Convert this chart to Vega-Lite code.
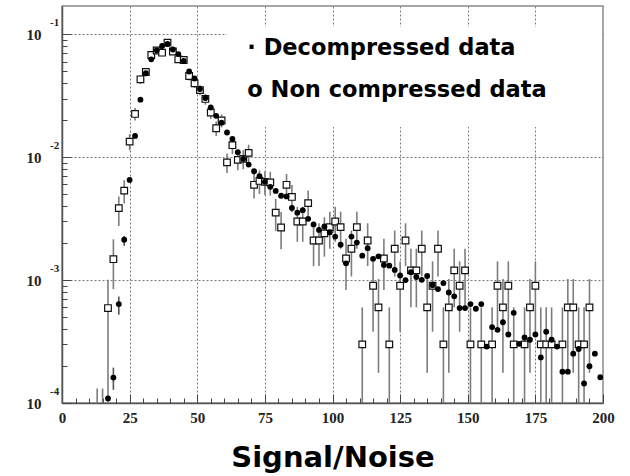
{
  "$schema": "https://vega.github.io/schema/vega-lite/v6.json",
  "autosize": {"type": "none"},
  "width": 541,
  "height": 397,
  "padding": {"left": 62, "top": 6, "right": 27, "bottom": 73},
  "background": "white",
  "resolve": {"axis": {"x": "independent", "y": "independent"}},
  "config": {
    "view": {"stroke": "#8a8a8a", "strokeWidth": 1.5},
    "axisX": {
      "labelFont": "Liberation Serif", "labelFontWeight": "bold", "labelFontSize": 15, "labelColor": "#222222",
      "labelPadding": 16, "labelOverlap": false, "labelFlush": false,
      "tickColor": "#444444", "tickWidth": 1, "domainColor": "#555555", "domainWidth": 1.5,
      "gridColor": "#7a7a7a", "gridDash": [2, 2], "gridWidth": 1,
      "titleFont": "DejaVu Sans", "titleFontWeight": "bold", "titleFontSize": 29, "titleColor": "#000000", "titlePadding": 18
    },
    "axisY": {
      "labelFont": "Liberation Serif", "labelFontWeight": "bold", "labelFontSize": 15, "labelColor": "#222222",
      "labelPadding": 30, "labelOverlap": false, "labelFlush": false, "labelBaseline": "middle",
      "tickColor": "#444444", "tickWidth": 1, "domainColor": "#555555", "domainWidth": 1.5,
      "gridColor": "#7a7a7a", "gridDash": [2, 2], "gridWidth": 1
    }
  },
  "datasets": {
    "dec": [
      {"b":17,"v":0.000109},{"b":19,"v":0.000161},{"b":21,"v":0.000638},{"b":23,"v":0.00213},{"b":25,"v":0.00653},{"b":27,"v":0.0149},{"b":29,"v":0.0294},{"b":31,"v":0.0482},{"b":33,"v":0.0626},{"b":35,"v":0.0741},{"b":37,"v":0.0803},{"b":39,"v":0.0834},{"b":41,"v":0.0752},{"b":43,"v":0.0691},{"b":45,"v":0.0607},{"b":47,"v":0.0498},{"b":49,"v":0.0437},{"b":51,"v":0.0359},{"b":53,"v":0.0303},{"b":55,"v":0.0254},{"b":57,"v":0.0217},{"b":59,"v":0.0191},{"b":61,"v":0.0159},{"b":63,"v":0.0141},{"b":65,"v":0.011},{"b":67,"v":0.00969},{"b":69,"v":0.00871},{"b":71,"v":0.00769},{"b":73,"v":0.00701},{"b":75,"v":0.0063},{"b":77,"v":0.00574},{"b":79,"v":0.00532},{"b":81,"v":0.00486},{"b":83,"v":0.0048},{"b":85,"v":0.00387},{"b":87,"v":0.00354},{"b":89,"v":0.00371},{"b":91,"v":0.00315},{"b":93,"v":0.00284},{"b":95,"v":0.00256},{"b":97,"v":0.00273},{"b":99,"v":0.00245},{"b":101,"v":0.00226},{"b":103,"v":0.00194},{"b":105,"v":0.00137},{"b":107,"v":0.00226},{"b":109,"v":0.00202},{"b":111,"v":0.00158},{"b":113,"v":0.00182},{"b":115,"v":0.00149},{"b":117,"v":0.00156},{"b":119,"v":0.00133},{"b":121,"v":0.00131},{"b":123,"v":0.00121},{"b":125,"v":0.00109},{"b":127,"v":0.001},{"b":129,"v":0.00116},{"b":131,"v":0.00106},{"b":133,"v":0.001005},{"b":135,"v":0.00108},{"b":137,"v":0.00091},{"b":139,"v":0.000845},{"b":141,"v":0.000946},{"b":143,"v":0.000793},{"b":145,"v":0.000738},{"b":147,"v":0.000592},{"b":149,"v":0.000592},{"b":151,"v":0.000638},{"b":153,"v":0.000585},{"b":155,"v":0.000638},{"b":157,"v":0.000288},{"b":159,"v":0.000415},{"b":161,"v":0.000394},{"b":163,"v":0.000454},{"b":165,"v":0.000361},{"b":167,"v":0.000542},{"b":169,"v":0.000303},{"b":171,"v":0.000341},{"b":173,"v":0.000327},{"b":175,"v":0.000361},{"b":177,"v":0.000235},{"b":179,"v":0.00038},{"b":181,"v":0.000327},{"b":183,"v":0.000288},{"b":185,"v":0.00018},{"b":187,"v":0.00018},{"b":189,"v":0.000252},{"b":191,"v":0.000275},{"b":193,"v":0.000144},{"b":195,"v":0.000199},{"b":197,"v":0.000252},{"b":199,"v":0.000162}
    ],
    "decerr": [
      {"b":19,"lo":0.000128,"hi":0.000194},{"b":21,"lo":0.000522,"hi":0.000736},{"b":23,"lo":0.0019,"hi":0.00229}
    ],
    "non": [
      {"b":13,"v":0.00006,"lo":0.00001,"hi":0.000131},{"b":15,"v":0.00006,"lo":0.00001,"hi":0.000131},
      {"b":17,"v":0.000592,"lo":0.00001,"hi":0.001005},{"b":19,"v":0.00148,"lo":0.000845,"hi":0.00215},
      {"b":21,"v":0.00385,"lo":0.00276,"hi":0.00479},{"b":23,"v":0.00535,"lo":0.0042,"hi":0.0065},
      {"b":25,"v":0.01339,"lo":0.01139,"hi":0.01539},{"b":27,"v":0.02249,"lo":0.01989,"hi":0.02509},
      {"b":29,"v":0.04305,"lo":0.03946,"hi":0.04664},{"b":31,"v":0.0494,"lo":0.04555,"hi":0.05325},
      {"b":33,"v":0.0679,"lo":0.0634,"hi":0.0724},{"b":35,"v":0.0738,"lo":0.0691,"hi":0.0785},
      {"b":37,"v":0.0709,"lo":0.0663,"hi":0.0755},{"b":39,"v":0.0855,"lo":0.0804,"hi":0.0906},
      {"b":41,"v":0.0725,"lo":0.0678,"hi":0.0772},{"b":43,"v":0.0626,"lo":0.0583,"hi":0.0669},
      {"b":45,"v":0.0618,"lo":0.0575,"hi":0.0661},{"b":47,"v":0.0458,"lo":0.0421,"hi":0.0495},
      {"b":49,"v":0.04,"lo":0.0365,"hi":0.0435},{"b":51,"v":0.0352,"lo":0.032,"hi":0.0385},
      {"b":53,"v":0.0298,"lo":0.0268,"hi":0.0328},{"b":55,"v":0.0231,"lo":0.0205,"hi":0.0257},
      {"b":57,"v":0.0172,"lo":0.0149,"hi":0.0195},{"b":59,"v":0.0199,"lo":0.0175,"hi":0.0223},
      {"b":61,"v":0.00908,"lo":0.00743,"hi":0.01073},{"b":63,"v":0.01253,"lo":0.01059,"hi":0.01447},
      {"b":65,"v":0.00951,"lo":0.00782,"hi":0.0112},{"b":67,"v":0.00969,"lo":0.00799,"hi":0.01139},
      {"b":69,"v":0.01084,"lo":0.00904,"hi":0.01264},{"b":71,"v":0.00596,"lo":0.00462,"hi":0.0073},
      {"b":73,"v":0.00641,"lo":0.00502,"hi":0.0078},{"b":75,"v":0.0063,"lo":0.00493,"hi":0.00767},
      {"b":77,"v":0.00624,"lo":0.00487,"hi":0.00761},{"b":79,"v":0.00354,"lo":0.00251,"hi":0.00457},
      {"b":81,"v":0.00268,"lo":0.00178,"hi":0.00358},{"b":83,"v":0.00596,"lo":0.00462,"hi":0.0073},
      {"b":85,"v":0.00475,"lo":0.00356,"hi":0.00594},{"b":87,"v":0.003,"lo":0.00205,"hi":0.00395},
      {"b":89,"v":0.003,"lo":0.00205,"hi":0.00395},{"b":91,"v":0.00423,"lo":0.0031,"hi":0.00536},
      {"b":93,"v":0.0021,"lo":0.0013,"hi":0.0029},{"b":95,"v":0.0021,"lo":0.0013,"hi":0.0029},
      {"b":97,"v":0.0024,"lo":0.00155,"hi":0.00325},{"b":99,"v":0.0027,"lo":0.0018,"hi":0.0036},
      {"b":101,"v":0.003,"lo":0.00205,"hi":0.00395},{"b":103,"v":0.0027,"lo":0.0018,"hi":0.0036},
      {"b":105,"v":0.0015,"lo":0.00083,"hi":0.00217},{"b":107,"v":0.0018,"lo":0.00107,"hi":0.00253},
      {"b":109,"v":0.0027,"lo":0.0018,"hi":0.0036},{"b":111,"v":0.0003,"lo":0.00001,"hi":0.0006},
      {"b":113,"v":0.0021,"lo":0.0013,"hi":0.0029},{"b":115,"v":0.0009,"lo":0.00038,"hi":0.00142},
      {"b":117,"v":0.0006,"lo":0.000176,"hi":0.00102},{"b":119,"v":0.0015,"lo":0.00083,"hi":0.00217},
      {"b":121,"v":0.0003,"lo":0.00001,"hi":0.0006},{"b":123,"v":0.0018,"lo":0.00107,"hi":0.00253},
      {"b":125,"v":0.0009,"lo":0.00038,"hi":0.00142},{"b":127,"v":0.0021,"lo":0.0013,"hi":0.0029},
      {"b":129,"v":0.0012,"lo":0.0006,"hi":0.0018},{"b":131,"v":0.0012,"lo":0.0006,"hi":0.0018},
      {"b":133,"v":0.0018,"lo":0.00107,"hi":0.00253},{"b":135,"v":0.0006,"lo":0.000176,"hi":0.00102},
      {"b":137,"v":0.0009,"lo":0.00038,"hi":0.00142},{"b":139,"v":0.0018,"lo":0.00107,"hi":0.00253},
      {"b":141,"v":0.0003,"lo":0.00001,"hi":0.0006},{"b":143,"v":0.0006,"lo":0.000176,"hi":0.00102},
      {"b":145,"v":0.0012,"lo":0.0006,"hi":0.0018},{"b":147,"v":0.0009,"lo":0.00038,"hi":0.00142},
      {"b":149,"v":0.0012,"lo":0.0006,"hi":0.0018},{"b":151,"v":0.0003,"lo":0.00001,"hi":0.0006},
      {"b":155,"v":0.0003,"lo":0.00001,"hi":0.0006},{"b":159,"v":0.0003,"lo":0.00001,"hi":0.0006},
      {"b":161,"v":0.0009,"lo":0.00038,"hi":0.00142},{"b":163,"v":0.0006,"lo":0.000176,"hi":0.00102},
      {"b":165,"v":0.0009,"lo":0.00038,"hi":0.00142},{"b":167,"v":0.0003,"lo":0.00001,"hi":0.0006},
      {"b":171,"v":0.0003,"lo":0.00001,"hi":0.0006},{"b":173,"v":0.0006,"lo":0.000176,"hi":0.00102},
      {"b":175,"v":0.0009,"lo":0.00038,"hi":0.00142},{"b":177,"v":0.0003,"lo":0.00001,"hi":0.0006},
      {"b":179,"v":0.0003,"lo":0.00001,"hi":0.0006},{"b":181,"v":0.0003,"lo":0.00001,"hi":0.0006},
      {"b":185,"v":0.0003,"lo":0.00001,"hi":0.0006},{"b":187,"v":0.0006,"lo":0.000176,"hi":0.00102},
      {"b":189,"v":0.0006,"lo":0.000176,"hi":0.00102},{"b":191,"v":0.0003,"lo":0.00001,"hi":0.0006},
      {"b":193,"v":0.0003,"lo":0.00001,"hi":0.0006},{"b":195,"v":0.0006,"lo":0.000176,"hi":0.00102}
    ],
    "exps": [
      {"v":0.1,"e":"-1"},{"v":0.01,"e":"-2"},{"v":0.001,"e":"-3"},{"v":0.0001,"e":"-4"}
    ],
    "legend": [
      {"x":68.5,"y":0.0774,"t":"· Decompressed data"},
      {"x":68.5,"y":0.0352,"t":"o Non compressed data"}
    ]
  },
  "layer": [
    {
      "data": {"name": "non"},
      "mark": {"type": "rule", "color": "#7d7d7d", "strokeWidth": 1.6, "clip": true},
      "encoding": {
        "x": {"field": "b", "type": "quantitative", "title": "Signal/Noise",
          "scale": {"domain": [0, 200], "nice": false, "zero": false},
          "axis": {"orient": "bottom", "values": [0,25,50,75,100,125,150,175,200], "tickSize": -9, "grid": true,
            "gridOpacity": {"condition": {"test": "datum.value > 0 && datum.value < 200", "value": 1}, "value": 0}}},
        "y": {"field": "lo", "type": "quantitative", "title": null,
          "scale": {"type": "log", "domain": [0.0001, 0.17], "nice": false},
          "axis": {"orient": "left", "values": [0.0001,0.001,0.01,0.1], "labelExpr": "'10'", "tickSize": -9, "grid": true,
            "gridOpacity": {"condition": {"test": "datum.value > 0.00015", "value": 1}, "value": 0}}},
        "y2": {"field": "hi"}
      }
    },
    {
      "data": {"name": "decerr"},
      "mark": {"type": "rule", "color": "#555555", "strokeWidth": 1.6, "clip": true},
      "encoding": {
        "x": {"field": "b", "type": "quantitative", "title": null,
          "axis": {"orient": "bottom", "values": [5,10,15,20,30,35,40,45,55,60,65,70,80,85,90,95,105,110,115,120,130,135,140,145,155,160,165,170,180,185,190,195], "tickSize": -5, "labels": false, "grid": false, "domain": false}},
        "y": {"field": "lo", "type": "quantitative", "title": null,
          "axis": {"orient": "left", "values": [0.0002,0.0003,0.0004,0.0005,0.0006,0.0007,0.0008,0.0009,0.002,0.003,0.004,0.005,0.006,0.007,0.008,0.009,0.02,0.03,0.04,0.05,0.06,0.07,0.08,0.09], "tickSize": -5, "labels": false, "grid": false, "domain": false}},
        "y2": {"field": "hi"}
      }
    },
    {
      "data": {"values": [{}]},
      "mark": {"type": "rect", "fill": "white"},
      "encoding": {
        "x": {"datum": 61, "type": "quantitative", "axis": null},
        "x2": {"datum": 199.3},
        "y": {"datum": 0.1146, "type": "quantitative", "axis": null},
        "y2": {"datum": 0.0176}
      }
    },
    {
      "data": {"name": "non"},
      "mark": {"type": "point", "shape": "square", "filled": true, "fill": "white", "stroke": "#111111", "strokeWidth": 1.2, "size": 44, "opacity": 1, "clip": true},
      "encoding": {
        "x": {"field": "b", "type": "quantitative", "axis": null},
        "y": {"field": "v", "type": "quantitative", "axis": null}
      }
    },
    {
      "data": {"name": "dec"},
      "mark": {"type": "point", "shape": "circle", "filled": true, "color": "#000000", "size": 34, "opacity": 1, "clip": true},
      "encoding": {
        "x": {"field": "b", "type": "quantitative", "axis": null},
        "y": {"field": "v", "type": "quantitative", "axis": null}
      }
    },
    {
      "data": {"name": "exps"},
      "mark": {"type": "text", "align": "left", "baseline": "middle", "dx": -12, "dy": -11, "font": "Liberation Serif", "fontWeight": "bold", "fontSize": 11, "color": "#222222"},
      "encoding": {
        "x": {"datum": 0, "type": "quantitative", "axis": null},
        "y": {"field": "v", "type": "quantitative", "axis": null},
        "text": {"field": "e"}
      }
    },
    {
      "data": {"name": "legend"},
      "mark": {"type": "text", "align": "left", "baseline": "middle", "font": "DejaVu Sans", "fontWeight": "bold", "fontSize": 22.5, "color": "#000000"},
      "encoding": {
        "x": {"field": "x", "type": "quantitative", "axis": null},
        "y": {"field": "y", "type": "quantitative", "axis": null},
        "text": {"field": "t"}
      }
    }
  ]
}
